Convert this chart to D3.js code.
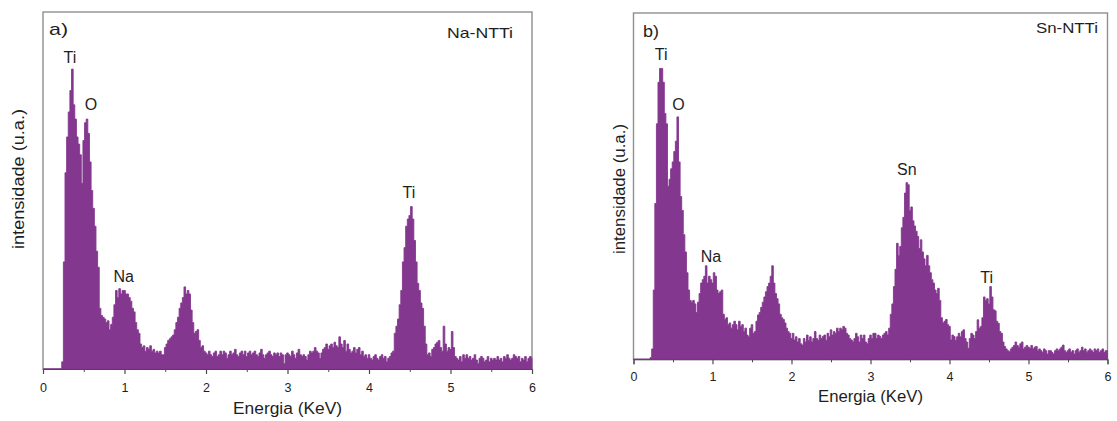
<!DOCTYPE html>
<html>
<head>
<meta charset="utf-8">
<script src="https://cdn.jsdelivr.net/npm/d3@7"></script>
<style>
  body { margin: 0; background: #fff; }
  svg { display: block; }
  text { font-family: "Liberation Sans", Arial, Helvetica, sans-serif; fill: #1e1e1e; }
</style>
</head>
<body>
<svg id="chart" width="1117" height="421"></svg>
<script>
// EDS spectra, counts in arbitrary units (0-100), one value per 0.02 keV channel from 0 to 6 keV
const binWidth = 0.02;

const naNTTi = [
  0, 0, 0, 0, 0, 0, 0, 0, 0, 0,
  0, 0, 2, 30, 55, 65, 72, 78, 84, 74,
  70, 65, 63, 60, 52, 64, 69, 70, 66, 58,
  50, 45, 40, 33, 28.5, 17, 15, 14.5, 14, 13,
  13.5, 11, 12.5, 14.5, 18, 22, 20, 22.5, 21, 22,
  22, 21, 21, 20, 19, 17, 16, 13, 11, 10,
  7, 6, 6.5, 5, 6, 5.5, 6.5, 5, 5.5, 4.5,
  5, 4.5, 5, 4, 4, 6, 7, 8, 8.5, 9,
  9.5, 11, 13, 14.5, 17, 18.5, 20, 23, 21, 22,
  21, 16.5, 13, 10, 10.5, 11, 8, 6, 6.5, 5,
  4.5, 4, 5, 4, 3.5, 4.5, 5, 3.5, 4, 5,
  4, 5, 4.5, 3, 4, 5, 4, 4.5, 5.5, 4,
  3.5, 4.5, 5, 4, 5, 3.5, 4.5, 5, 4, 4.5,
  5, 4, 3.5, 4.5, 5.5, 4, 3, 4, 4.5, 5,
  4, 3.5, 4.5, 4, 4.5, 3.5, 4.5, 4, 1.5, 4,
  4.5, 4, 3.5, 5, 4, 3, 4.5, 5.5, 4, 3.5,
  4, 3.5, 2.5, 4, 5, 4.5, 5, 6, 5, 4.5,
  3, 4.5, 5.5, 6, 7, 5.5, 6.5, 7, 6, 7.5,
  6.5, 6, 9, 7, 6, 8, 5, 7, 5.5, 4.5,
  5, 6, 4.5, 5.5, 6, 4, 5, 3.5, 4, 3,
  4, 3, 2.5, 3.5, 4, 3, 2.5, 3.5, 4, 3,
  3.5, 2, 3, 3.5, 4.5, 5, 10, 12, 14, 18,
  22, 30, 34, 40, 42, 43, 45.5, 42, 36, 30,
  24, 22, 18.5, 17, 12, 7, 4, 4.5, 3.5, 5.5,
  6, 7, 7.5, 8, 6, 5, 12, 7, 5, 6,
  5.5, 10.5, 6, 3.5, 3, 2.5, 3.5, 2, 4, 3,
  4, 3, 3.5, 2.5, 3, 4, 2.5, 1.5, 3, 3.5,
  3, 2, 2.5, 3.5, 2, 3, 2.5, 3, 2.5, 3.5,
  2.5, 3, 2, 3.5, 3, 4, 3, 2.5, 3, 4,
  3.5, 3, 3.5, 2, 3, 2.5, 3.5, 2, 3, 3.5,
  3
];

const snNTTi = [
  0, 0, 0, 0, 0, 0, 0, 0, 0, 0,
  0, 0.5, 3, 20, 45, 68, 80, 84, 84, 80,
  71, 68, 50, 52, 55, 57, 60, 63, 70, 57,
  47, 43, 36, 31, 25, 20, 17, 16.5, 17, 16,
  13.5, 16.5, 19, 22, 23, 24, 27, 22, 24, 23,
  22, 25, 24, 20, 19, 19.5, 20, 13, 11.5, 12,
  10, 10.5, 9, 10, 11, 10, 8.5, 11, 9.5, 10,
  8, 9, 7, 6.5, 9, 10, 7.5, 8, 11, 12.8,
  13.5, 15, 16.5, 18, 19.5, 21, 22, 24, 27, 22,
  19, 17.5, 16, 13, 12, 11.5, 10.5, 9, 8, 7.5,
  6, 7.5, 5.6, 6.5, 5, 6, 4.5, 4.1, 6, 5,
  7, 5.5, 6.5, 5, 6, 8, 6, 5.5, 7, 6,
  6.6, 7, 5.5, 7.5, 6.5, 8.5, 7, 8, 7.5, 9,
  8, 9, 8.5, 9.5, 9, 7.5, 7, 6, 5.6, 5,
  6, 7.5, 6.5, 5, 7, 6, 7, 5, 4.5, 6,
  7, 6, 7.5, 7.5, 6, 7, 6.6, 6, 7, 7.5,
  8, 7, 9, 13, 16, 21, 26, 33.5, 30, 32.6,
  38, 41, 48, 51, 50.4, 43, 44, 40, 38.5, 37,
  35.5, 32, 34.5, 31, 29, 27, 30, 27, 25, 23,
  22, 20, 19, 20.5, 17, 12, 10.5, 11, 11.5, 10,
  9.5, 5.6, 7, 6.6, 5.5, 6.5, 7.5, 6.5, 8, 8.5,
  6, 5, 3.2, 6, 7.5, 7, 6, 8, 11.4, 9,
  9.5, 12, 18, 17, 17.5, 16, 21, 18, 14.3, 14,
  11, 10.4, 8, 7.5, 5, 3.7, 3, 2.5, 2.2, 3,
  3.5, 4, 5, 4, 3.5, 4.5, 5, 3, 3.5, 4,
  3.5, 3.2, 4, 3, 3.5, 3.7, 2.5, 3, 2.5, 2,
  3, 2.5, 1.5, 2.5, 2.5, 2, 1.5, 2.5, 3, 2.5,
  3, 3.5, 4.1, 2.5, 2, 2.5, 3, 2, 2.5, 1.5,
  2.5, 3, 2, 2.5, 3.5, 2.5, 3, 2, 2.5, 3,
  2.5, 2, 3, 2.5, 3, 2, 2.5, 3, 2, 2.5,
  2.5
];

const energyTicks = [0, 1, 2, 3, 4, 5, 6];
const halfTicks = [0.5, 1.5, 2.5, 3.5, 4.5, 5.5];

// Element labels: energy (keV) of the label centre, intensity of its baseline
const naPeaks = [
  { text: "Ti", e: 0.33, v: 85.8 },
  { text: "O",  e: 0.59, v: 72.5 },
  { text: "Na", e: 0.99, v: 24.4 },
  { text: "Ti", e: 4.49, v: 48.0 }
];
const snPeaks = [
  { text: "Ti", e: 0.35, v: 86.5 },
  { text: "O",  e: 0.57, v: 72.0 },
  { text: "Na", e: 0.98, v: 28.1 },
  { text: "Sn", e: 3.46, v: 53.3 },
  { text: "Ti", e: 4.47, v: 22.0 }
];

const fillColor = "#84378f";
const frameColor = "#8f8f8f";
const axisColor = "#4a4a4a";

const panels = [
  {
    tag: "a)", sample: "Na-NTTi", counts: naNTTi, peaks: naPeaks,
    box: { left: 43, right: 532, top: 12, bottom: 369 },
    tagPos: [49, 35, 19], samplePos: [513, 38, 66],
    yTitle: { x: 24, y: 179, len: 140 }, xTitleDy: 45, xTitleLen: 109, tickPad: 9
  },
  {
    tag: "b)", sample: "Sn-NTTi", counts: snNTTi, peaks: snPeaks,
    box: { left: 633.5, right: 1107.5, top: 13, bottom: 359.3 },
    tagPos: [643, 37, 16], samplePos: [1098, 33, 62],
    yTitle: { x: 625, y: 189, len: 130 }, xTitleDy: 43, xTitleLen: 105, tickPad: 8
  }
];

const svg = d3.select("#chart");

panels.forEach(p => {
  const b = p.box;
  const x = d3.scaleLinear().domain([0, 6]).range([b.left, b.right]);
  const y = d3.scaleLinear().domain([0, 100]).range([b.bottom, b.top]);
  const g = svg.append("g");

  const series = p.counts.map((v, i) => ({ e: i * binWidth, v }));

  // plot frame
  g.append("rect")
    .attr("x", b.left).attr("y", b.top)
    .attr("width", b.right - b.left).attr("height", b.bottom - b.top)
    .attr("fill", "none").attr("stroke", frameColor).attr("stroke-width", 1.4);

  // spectrum
  const area = d3.area()
    .x(d => x(d.e))
    .y0(y(0))
    .y1(d => y(d.v))
    .curve(d3.curveStep);

  g.append("path")
    .datum(series)
    .attr("d", area)
    .attr("fill", fillColor)
    .attr("stroke", fillColor)
    .attr("stroke-width", 0.9)
    .attr("stroke-linejoin", "miter");

  // energy axis: major and half-unit ticks
  const major = g.append("g")
    .attr("transform", `translate(0,${b.bottom})`)
    .call(d3.axisBottom(x).tickValues(energyTicks).tickFormat(d3.format("d"))
      .tickSize(5).tickPadding(p.tickPad));
  major.select(".domain").attr("stroke", axisColor).attr("stroke-width", 1);
  major.selectAll(".tick line").attr("stroke", axisColor).attr("stroke-width", 1.2);
  major.selectAll(".tick text")
    .attr("font-size", 12.5)
    .attr("font-family", "'Liberation Sans', Arial, sans-serif")
    .attr("fill", "#2a2a2a");

  const minor = g.append("g")
    .attr("transform", `translate(0,${b.bottom})`)
    .call(d3.axisBottom(x).tickValues(halfTicks).tickFormat("").tickSize(3));
  minor.select(".domain").remove();
  minor.selectAll(".tick line").attr("stroke", axisColor).attr("stroke-width", 1);

  // axis titles
  g.append("text")
    .attr("x", (b.left + b.right) / 2)
    .attr("y", b.bottom + p.xTitleDy)
    .attr("text-anchor", "middle")
    .attr("font-size", 16)
    .attr("textLength", p.xTitleLen)
    .attr("lengthAdjust", "spacingAndGlyphs")
    .text("Energia (KeV)");

  g.append("text")
    .attr("transform", `translate(${p.yTitle.x},${p.yTitle.y}) rotate(-90)`)
    .attr("text-anchor", "middle")
    .attr("font-size", 16)
    .attr("textLength", p.yTitle.len)
    .attr("lengthAdjust", "spacingAndGlyphs")
    .text("intensidade (u.a.)");

  // panel tag and sample name
  g.append("text")
    .attr("x", p.tagPos[0]).attr("y", p.tagPos[1])
    .attr("font-size", 17)
    .attr("textLength", p.tagPos[2])
    .attr("lengthAdjust", "spacingAndGlyphs")
    .text(p.tag);

  g.append("text")
    .attr("x", p.samplePos[0] - p.samplePos[2]).attr("y", p.samplePos[1])
    .attr("font-size", 15)
    .attr("textLength", p.samplePos[2])
    .attr("lengthAdjust", "spacingAndGlyphs")
    .text(p.sample);

  // element labels over the peaks
  g.selectAll("text.peak")
    .data(p.peaks)
    .join("text")
    .attr("class", "peak")
    .attr("x", d => x(d.e))
    .attr("y", d => y(d.v))
    .attr("text-anchor", "middle")
    .attr("font-size", 16)
    .text(d => d.text);
});
</script>
</body>
</html>
